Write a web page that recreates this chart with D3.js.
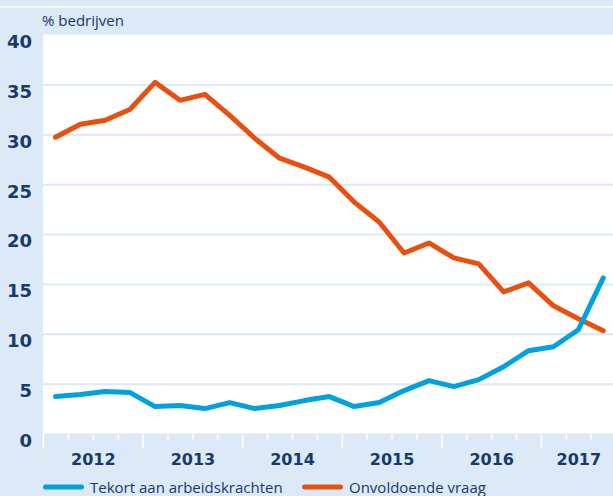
<!DOCTYPE html>
<html>
<head>
<meta charset="utf-8">
<script src="https://cdn.jsdelivr.net/npm/d3@7"></script>
<style>
  body { margin: 0; background: #dce9f6; }
  svg { display: block; }
</style>
</head>
<body>
<div id="chart"></div>
<script>

// data (kwartalen 2012K1 - 2017K3)
const periods = ["2012K1","2012K2","2012K3","2012K4",
                 "2013K1","2013K2","2013K3","2013K4",
                 "2014K1","2014K2","2014K3","2014K4",
                 "2015K1","2015K2","2015K3","2015K4",
                 "2016K1","2016K2","2016K3","2016K4",
                 "2017K1","2017K2","2017K3"];
const tekort = [3.7, 3.9, 4.2, 4.1, 2.7, 2.8, 2.5, 3.1, 2.5, 2.8, 3.3, 3.7,
                2.7, 3.1, 4.3, 5.3, 4.7, 5.4, 6.7, 8.3, 8.7, 10.4, 15.6];
const vraag = [29.7, 31.0, 31.4, 32.5, 35.2, 33.4, 34.0, 31.9, 29.6, 27.6, 26.7, 25.7,
               23.2, 21.2, 18.1, 19.1, 17.6, 17.0, 14.2, 15.1, 12.8, 11.5, 10.3];
const years = ["2012","2013","2014","2015","2016","2017"];
const yTicks = [0, 5, 10, 15, 20, 25, 30, 35, 40];
const seriesNames = ["Tekort aan arbeidskrachten", "Onvoldoende vraag"];

const width = 613, height = 496;
const plotLeft = 43, plotTop = 34.5, plotBottom = 433.5;
const qWidth = 24.9;

const navy = "#173a6a", bg = "#dce9f6";
const blue = "#00a0e1", orange = "#e8500f";

const svg = d3.select("#chart")
  .append("svg")
  .attr("width", width)
  .attr("height", height);

svg.append("rect")
  .attr("width", width).attr("height", height)
  .attr("fill", bg);

// witte lijn bovenaan
svg.append("rect")
  .attr("x", 0).attr("y", 6)
  .attr("width", width).attr("height", 1.6)
  .attr("fill", "#fff");

// scales
const x = d3.scaleLinear()
  .domain([0, periods.length])
  .range([plotLeft, plotLeft + qWidth * periods.length]);

const y = d3.scaleLinear()
  .domain([0, 40])
  .range([plotBottom, plotTop]);

// plot area
svg.append("rect")
  .attr("x", plotLeft).attr("y", plotTop)
  .attr("width", width - plotLeft).attr("height", plotBottom - plotTop)
  .attr("fill", "#fff");

// gridlines
const grid = svg.append("g")
  .attr("transform", `translate(${plotLeft},0)`)
  .call(d3.axisRight(y).tickValues(yTicks.filter(v => v > 0 && v < 40))
    .tickSize(width - plotLeft).tickFormat(""));
grid.select(".domain").remove();
grid.selectAll("line").attr("stroke", bg).attr("stroke-width", 2);

// y labels
const yAxis = svg.append("g")
  .attr("transform", `translate(${plotLeft},0)`)
  .call(d3.axisLeft(y).tickValues(yTicks).tickSize(0).tickPadding(11));
yAxis.select(".domain").remove();
yAxis.selectAll("text")
  .attr("dy", "0.72em")
  .attr("fill", navy)
  .style("font-family", "'DejaVu Sans', sans-serif")
  .style("font-weight", "bold")
  .style("font-size", "18px");

svg.append("text")
  .attr("x", 42).attr("y", 26)
  .attr("fill", navy)
  .style("font-family", "'Open Sans', sans-serif")
  .style("font-size", "15px")
  .text("% bedrijven");

// x ticks: kwartalen kort, jaren lang
const qAxis = svg.append("g")
  .attr("transform", `translate(0,${plotBottom})`)
  .call(d3.axisBottom(x).tickValues(d3.range(0, periods.length + 1).filter(k => k % 4 != 0))
    .tickSize(7).tickFormat(""));
const yrAxis = svg.append("g")
  .attr("transform", `translate(0,${plotBottom})`)
  .call(d3.axisBottom(x).tickValues(d3.range(0, periods.length + 1).filter(k => k % 4 == 0))
    .tickSize(15).tickFormat(""));
[qAxis, yrAxis].forEach(a => {
  a.select(".domain").remove();
  a.selectAll("line").attr("stroke", "#fff").attr("stroke-width", 1.6);
});

// jaarlabels, midden van de getoonde kwartalen
const yearCenter = yr => {
  const idx = periods.map((p, i) => p.startsWith(yr) ? i : -1).filter(i => i >= 0);
  return (idx[0] + idx[idx.length - 1] + 1) / 2;
};
const labelAxis = svg.append("g")
  .attr("transform", `translate(0,${plotBottom})`)
  .call(d3.axisBottom(x).tickValues(years.map(yearCenter)).tickSize(0)
    .tickFormat((d, i) => years[i]));
labelAxis.select(".domain").remove();
labelAxis.selectAll("text")
  .attr("y", 31.5).attr("dy", 0)
  .attr("fill", navy)
  .style("font-family", "'DejaVu Sans', sans-serif")
  .style("font-weight", "bold")
  .style("font-size", "16px");

// lijnen
const line = d3.line()
  .x((d, i) => x(i + 0.5))
  .y(d => y(d));

[[vraag, orange], [tekort, blue]].forEach(([vals, col]) => {
  svg.append("path")
    .datum(vals)
    .attr("d", line)
    .attr("fill", "none")
    .attr("stroke", col)
    .attr("stroke-width", 5)
    .attr("stroke-linejoin", "round")
    .attr("stroke-linecap", "round");
});

// legenda
const legend = svg.append("g");
const legendX = [43, 302];
[blue, orange].forEach((col, i) => {
  legend.append("line")
    .attr("x1", legendX[i] + 2.5).attr("x2", legendX[i] + 38.5)
    .attr("y1", 487).attr("y2", 487)
    .attr("stroke", col).attr("stroke-width", 5)
    .attr("stroke-linecap", "round");
  legend.append("text")
    .attr("x", legendX[i] + 47).attr("y", 493)
    .attr("fill", navy)
    .style("font-family", "'Open Sans', sans-serif")
    .style("font-size", "15px")
    .text(seriesNames[i]);
});

</script>
</body>
</html>
